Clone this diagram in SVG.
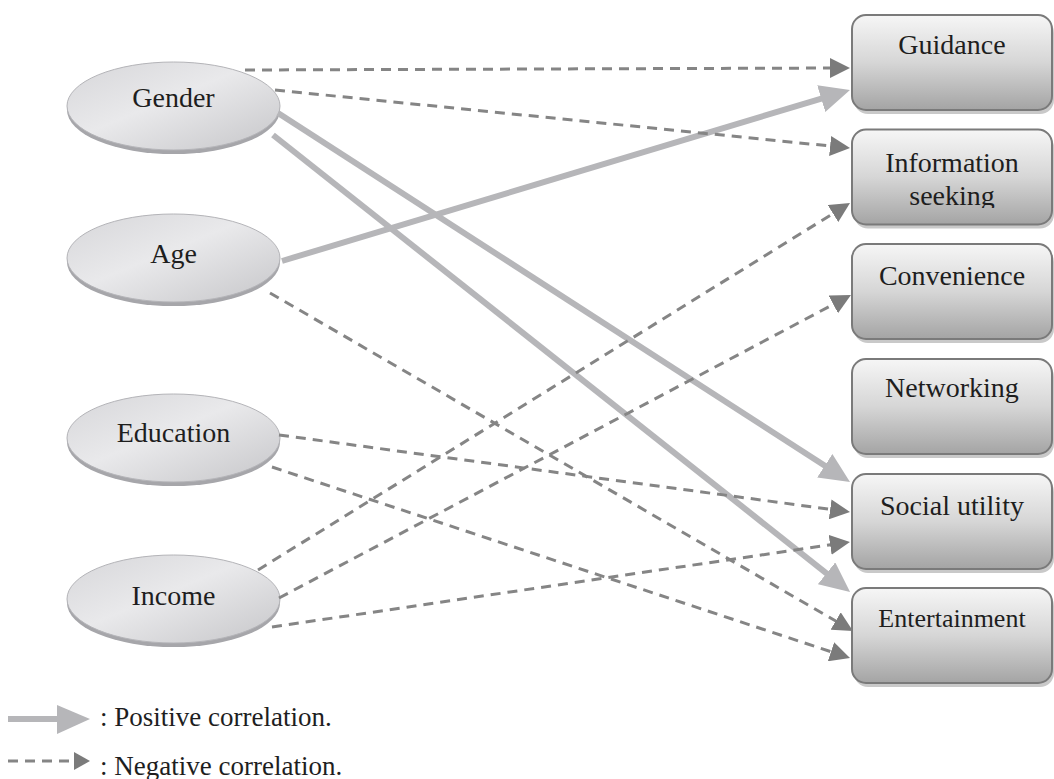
<svg xmlns="http://www.w3.org/2000/svg" width="1054" height="779" viewBox="0 0 1054 779">
<style>
  text { font-family: "Liberation Serif", "Times New Roman", serif; fill: #1e1e1e; text-anchor: middle; }
  .ell { fill: url(#ellGrad); stroke: #b4b4b8; stroke-width: 1; }
  .ellsh { fill: #a6a6aa; }
  .box { fill: url(#boxGrad); stroke: #7a7a7a; stroke-width: 2; }
  .boxsh { fill: #c9c9c9; }
  .pos { stroke: #b6b6b9; stroke-width: 6; fill: none; }
  .neg { stroke: #858585; stroke-width: 3; stroke-dasharray: 10 7; fill: none; }
  .lbl { font-size: 28px; }
</style>
<defs>
  <linearGradient id="ellGrad" x1="0" y1="0" x2="1" y2="1">
    <stop offset="0" stop-color="#d6d6d9"/>
    <stop offset="0.45" stop-color="#e9e9eb"/>
    <stop offset="1" stop-color="#c6c6c9"/>
  </linearGradient>
  <linearGradient id="boxGrad" x1="0" y1="0" x2="0" y2="1">
    <stop offset="0" stop-color="#f6f6f6"/>
    <stop offset="0.5" stop-color="#d6d6d6"/>
    <stop offset="1" stop-color="#a4a4a4"/>
  </linearGradient>
  <marker id="hPos" markerUnits="userSpaceOnUse" markerWidth="30" markerHeight="28" refX="8" refY="14" orient="auto">
    <path d="M0,0 L30,14 L0,28 Z" fill="#b6b6b9"/>
  </marker>
  <marker id="hNeg" markerUnits="userSpaceOnUse" markerWidth="20" markerHeight="20" refX="6" refY="10" orient="auto">
    <path d="M0,0 L20,10 L0,20 Z" fill="#7b7b7b"/>
  </marker>
  <clipPath id="infoClip"><rect x="852" y="129" width="200" height="79"/></clipPath>
</defs>

<g id="n-gender">
  <ellipse class="ellsh" cx="173.5" cy="110" rx="106.5" ry="44"/>
  <ellipse class="ell" cx="173.5" cy="106" rx="106.5" ry="44"/>
  <text class="lbl" x="173.5" y="107">Gender</text>
</g>
<g id="n-age">
  <ellipse class="ellsh" cx="173.5" cy="262" rx="106.5" ry="44"/>
  <ellipse class="ell" cx="173.5" cy="258" rx="106.5" ry="44"/>
  <text class="lbl" x="173.5" y="263">Age</text>
</g>
<g id="n-education">
  <ellipse class="ellsh" cx="173.5" cy="442" rx="106.5" ry="44"/>
  <ellipse class="ell" cx="173.5" cy="438" rx="106.5" ry="44"/>
  <text class="lbl" x="173.5" y="442">Education</text>
</g>
<g id="n-income">
  <ellipse class="ellsh" cx="173.5" cy="603" rx="106.5" ry="44"/>
  <ellipse class="ell" cx="173.5" cy="599" rx="106.5" ry="44"/>
  <text class="lbl" x="173.5" y="605">Income</text>
</g>

<g id="n-guidance">
  <rect class="boxsh" x="854" y="19" width="200" height="95" rx="14"/>
  <rect class="box" x="852" y="15" width="200" height="95" rx="14"/>
  <text class="lbl" x="952" y="54">Guidance</text>
</g>
<g id="n-information">
  <rect class="boxsh" x="854" y="133.5" width="200" height="95" rx="14"/>
  <rect class="box" x="852" y="129.5" width="200" height="95" rx="14"/>
  <g clip-path="url(#infoClip)">
    <text class="lbl" x="952" y="172">Information</text>
    <text class="lbl" x="952" y="205">seeking</text>
  </g>
</g>
<g id="n-convenience">
  <rect class="boxsh" x="854" y="248" width="200" height="95" rx="14"/>
  <rect class="box" x="852" y="244" width="200" height="95" rx="14"/>
  <text class="lbl" x="952" y="285">Convenience</text>
</g>
<g id="n-networking">
  <rect class="boxsh" x="854" y="363" width="200" height="95" rx="14"/>
  <rect class="box" x="852" y="359" width="200" height="95" rx="14"/>
  <text class="lbl" x="952" y="397">Networking</text>
</g>
<g id="n-social">
  <rect class="boxsh" x="854" y="478" width="200" height="95" rx="14"/>
  <rect class="box" x="852" y="474" width="200" height="95" rx="14"/>
  <text class="lbl" x="952" y="515">Social utility</text>
</g>
<g id="n-entertainment">
  <rect class="boxsh" x="854" y="592" width="200" height="95" rx="14"/>
  <rect class="box" x="852" y="588" width="200" height="95" rx="14"/>
  <text x="952" y="627" font-size="26">Entertainment</text>
</g>

<g id="connectors">
  <line class="pos" x1="278" y1="113" x2="831.5" y2="470.1" marker-end="url(#hPos)"/>
  <line class="pos" x1="273" y1="135" x2="832.8" y2="578.3" marker-end="url(#hPos)"/>
  <line class="pos" x1="282" y1="261" x2="828.9" y2="96.3" marker-end="url(#hPos)"/>

  <line class="neg" x1="245" y1="70" x2="836" y2="68" marker-end="url(#hNeg)"/>
  <line class="neg" x1="275" y1="90" x2="836.1" y2="146.6" marker-end="url(#hNeg)"/>
  <line class="neg" x1="270" y1="293" x2="840.9" y2="624" marker-end="url(#hNeg)"/>
  <line class="neg" x1="279" y1="435" x2="836.1" y2="510.1" marker-end="url(#hNeg)"/>
  <line class="neg" x1="272" y1="467" x2="836.7" y2="653.6" marker-end="url(#hNeg)"/>
  <line class="neg" x1="258" y1="570" x2="838.1" y2="210.4" marker-end="url(#hNeg)"/>
  <line class="neg" x1="279" y1="598" x2="838.6" y2="301.6" marker-end="url(#hNeg)"/>
  <line class="neg" x1="272" y1="627" x2="836.1" y2="544" marker-end="url(#hNeg)"/>
</g>

<g id="legend">
  <line class="pos" x1="8" y1="719" x2="60" y2="719"/>
  <path d="M57,705 L90,719 L57,734 Z" fill="#b6b6b9"/>
  <text x="100" y="726" font-size="27" style="text-anchor:start">: Positive correlation.</text>
  <line x1="8" y1="761" x2="78" y2="761" stroke="#858585" stroke-width="3" stroke-dasharray="10 7"/>
  <path d="M74,752 L90,761 L74,770 Z" fill="#7b7b7b"/>
  <text x="100" y="775" font-size="27" style="text-anchor:start">: Negative correlation.</text>
</g>
</svg>
